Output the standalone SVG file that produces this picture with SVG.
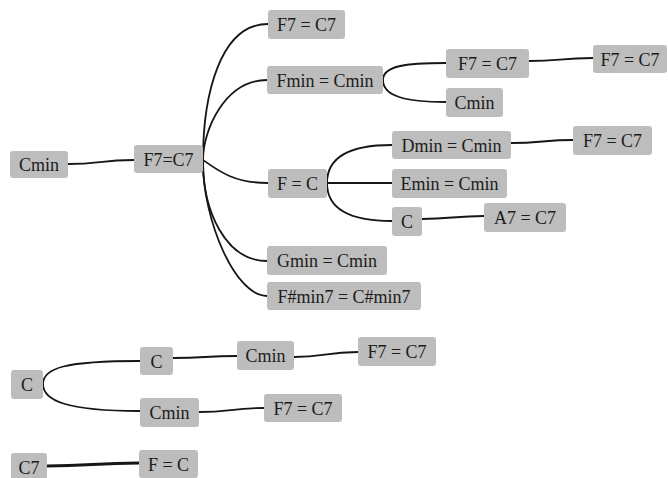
<svg xmlns="http://www.w3.org/2000/svg" width="668" height="478" viewBox="0 0 668 478">
  <style>
    .box { fill: #bdbdbd; }
    .lbl { font-family: "Liberation Serif", "Times New Roman", serif; font-size: 18px; fill: #1c1c1c; text-anchor: middle; }
    .link { fill: none; stroke: #161616; stroke-width: 1.8; stroke-linecap: round; }
    .thick { stroke-width: 3; }
  </style>
  <rect width="668" height="478" fill="#ffffff"/>

  <!-- connectors -->
  <g id="connectors">
    <path class="link" d="M68,164 C100,164 100,160 134,160"/>
    <path class="link" d="M203,160 C203,95 220,24 268,24"/>
    <path class="link" d="M203,160 C203,130 225,80 267,80"/>
    <path class="link" d="M203,160 C220,172 235,183 268,183"/>
    <path class="link" d="M203,162 C203,210 225,261 267,261"/>
    <path class="link" d="M203,162 C203,220 235,296 267,296"/>
    <path class="link" d="M383,80 C383,66 405,63 446,63"/>
    <path class="link" d="M383,80 C383,96 405,102 446,102"/>
    <path class="link" d="M529,61 C560,61 560,58 593,58"/>
    <path class="link" d="M327,183 C327,160 345,145 392,145"/>
    <path class="link" d="M327,183 L392,183"/>
    <path class="link" d="M327,183 C327,206 345,221 392,221"/>
    <path class="link" d="M511,143 C540,143 545,140 573,140"/>
    <path class="link" d="M422,219 C450,219 455,216 484,216"/>
    <path class="link" d="M43,384 C43,368 65,361 140,361"/>
    <path class="link" d="M43,384 C43,400 65,411 140,411"/>
    <path class="link" d="M173,358 C205,358 205,356 237,356"/>
    <path class="link" d="M294,357 C325,357 325,352 358,352"/>
    <path class="link" d="M199,412 C230,412 232,408 264,408"/>
    <path class="link thick" d="M47,466 C90,466 95,463 139,463"/>
  </g>

  <!-- nodes -->
  <g id="n-cmin-root"><rect class="box" x="10" y="151" width="58" height="27" rx="3"/><text class="lbl" x="39" y="171">Cmin</text></g>
  <g id="n-f7c7-hub"><rect class="box" x="134" y="145" width="69" height="28" rx="3"/><text class="lbl" x="168.5" y="165.5">F7=C7</text></g>
  <g id="n-top-f7c7"><rect class="box" x="268" y="10" width="77" height="29" rx="3"/><text class="lbl" x="306.5" y="31">F7 = C7</text></g>
  <g id="n-fmin"><rect class="box" x="267" y="66" width="116" height="28" rx="3"/><text class="lbl" x="325" y="86.5">Fmin = Cmin</text></g>
  <g id="n-fc"><rect class="box" x="268" y="169" width="59" height="29" rx="3"/><text class="lbl" x="297.5" y="190">F = C</text></g>
  <g id="n-gmin"><rect class="box" x="267" y="246" width="120" height="29" rx="3"/><text class="lbl" x="327" y="267">Gmin = Cmin</text></g>
  <g id="n-fsharp"><rect class="box" x="267" y="282" width="154" height="28" rx="3"/><text class="lbl" x="344" y="302.5">F#min7 = C#min7</text></g>
  <g id="n-fmin-f7"><rect class="box" x="446" y="49" width="83" height="29" rx="3"/><text class="lbl" x="487.5" y="70">F7 = C7</text></g>
  <g id="n-fmin-f7-f7"><rect class="box" x="593" y="45" width="74" height="28" rx="3"/><text class="lbl" x="630" y="65.5">F7 = C7</text></g>
  <g id="n-fmin-cmin"><rect class="box" x="446" y="88" width="57" height="29" rx="3"/><text class="lbl" x="474.5" y="109">Cmin</text></g>
  <g id="n-dmin"><rect class="box" x="392" y="131" width="119" height="28" rx="3"/><text class="lbl" x="451.5" y="151.5">Dmin = Cmin</text></g>
  <g id="n-dmin-f7"><rect class="box" x="573" y="126" width="79" height="29" rx="3"/><text class="lbl" x="612.5" y="147">F7 = C7</text></g>
  <g id="n-emin"><rect class="box" x="392" y="169" width="115" height="29" rx="3"/><text class="lbl" x="449.5" y="190">Emin = Cmin</text></g>
  <g id="n-c"><rect class="box" x="392" y="207" width="30" height="29" rx="3"/><text class="lbl" x="407" y="228">C</text></g>
  <g id="n-a7"><rect class="box" x="484" y="203" width="82" height="29" rx="3"/><text class="lbl" x="525" y="224">A7 = C7</text></g>
  <g id="n-c-root"><rect class="box" x="11" y="370" width="32" height="29" rx="3"/><text class="lbl" x="27" y="391">C</text></g>
  <g id="n-c-c"><rect class="box" x="140" y="347" width="33" height="28" rx="3"/><text class="lbl" x="156.5" y="367.5">C</text></g>
  <g id="n-c-c-cmin"><rect class="box" x="237" y="341" width="57" height="29" rx="3"/><text class="lbl" x="265.5" y="362">Cmin</text></g>
  <g id="n-c-c-cmin-f7"><rect class="box" x="358" y="337" width="78" height="29" rx="3"/><text class="lbl" x="397" y="358">F7 = C7</text></g>
  <g id="n-c-cmin"><rect class="box" x="140" y="398" width="59" height="29" rx="3"/><text class="lbl" x="169.5" y="419">Cmin</text></g>
  <g id="n-c-cmin-f7"><rect class="box" x="264" y="394" width="78" height="28" rx="3"/><text class="lbl" x="303" y="414.5">F7 = C7</text></g>
  <g id="n-c7"><rect class="box" x="11" y="453" width="36" height="28" rx="3"/><text class="lbl" x="29" y="473.5">C7</text></g>
  <g id="n-c7-fc"><rect class="box" x="139" y="450" width="59" height="28" rx="3"/><text class="lbl" x="168.5" y="470.5">F = C</text></g>
</svg>
